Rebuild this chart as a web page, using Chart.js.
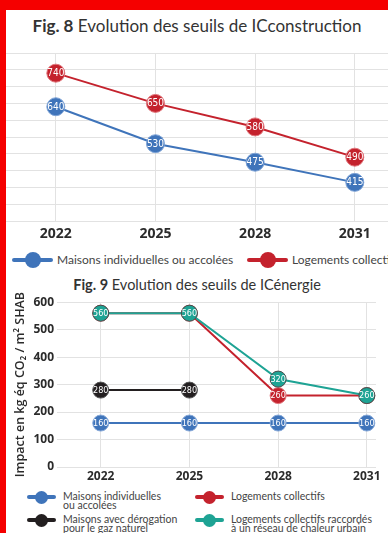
<!DOCTYPE html>
<html lang="fr">
<head>
<meta charset="utf-8">
<title>Evolution des seuils</title>
<script src="https://cdn.jsdelivr.net/npm/chart.js@4.4.1/dist/chart.umd.min.js"></script>
<style>
  html, body { margin: 0; padding: 0; width: 388px; height: 533px; overflow: hidden; background: #f50000; }
  #page { position: absolute; left: 6px; top: 10px; width: 400px; height: 540px; background: #fff;
          font-family: Lato, 'Open Sans', sans-serif; color: #333; }
  .titre { position: absolute; left: 0; width: 382px; text-align: center; white-space: nowrap; color: #333; }
  #titre8 { top: 6px; font-size: 17px; line-height: 20px; }
  #titre9 { top: 266px; font-size: 14.5px; line-height: 18px; }
  .cadre { position: absolute; left: 0; width: 382px; }
  #cadre8 { top: 35px; height: 200px; }
  #cadre9 { top: 282px; height: 192px; }
  .item { position: absolute; white-space: nowrap; color: #444; }
  .trait { position: absolute; border-radius: 2px; }
  .rond { position: absolute; border-radius: 50%; }
  .libelle { position: absolute; }
  #legende8 .libelle { font-size: 12px; line-height: 14px; top: -7px; }
  #legende9 .libelle { font-size: 10.5px; line-height: 9.5px; top: -5.5px; }
</style>
</head>
<body>
<div id="page">
  <div class="titre" id="titre8"><b>Fig. 8</b> Evolution des seuils de ICconstruction</div>
  <div class="cadre" id="cadre8"><canvas id="graphique8"></canvas></div>
  <div id="legende8"></div>

  <div class="titre" id="titre9"><b>Fig. 9</b> Evolution des seuils de ICénergie</div>
  <div class="cadre" id="cadre9"><canvas id="graphique9"></canvas></div>
  <div id="legende9"></div>
</div>

<script>
// Années communes aux deux figures
const annees = ['2022', '2025', '2028', '2031'];

// Fig. 8 : ICconstruction
const icConstructionMaisons = [640, 530, 475, 415];
const icConstructionLogements = [740, 650, 580, 490];

// Fig. 9 : ICénergie
const icEnergieMaisons = [160, 160, 160, 160];
const icEnergieLogements = [560, 560, 260, 260];
const icEnergieDerogationGaz = [280, 280, null, null];
const icEnergieReseauChaleur = [560, 560, 320, 260];

const ticksY9 = [0, 100, 200, 300, 400, 500, 600];

const couleurs = {
  bleu: '#3f74ba',
  rouge: '#c4222d',
  noir: '#231f20',
  turquoise: '#1ea394'
};

const grille = '#e2e2e2';
const policeTicks = "'Open Sans', 'DejaVu Sans', sans-serif";

function points(valeurs) {
  return annees.map((a, i) => ({ x: Number(a), y: valeurs[i] }));
}

// Valeur écrite en blanc au centre de chaque rond
const etiquettesPoints = {
  id: 'etiquettesPoints',
  afterDatasetDraw(chart, args, opts) {
    const ctx = chart.ctx;
    ctx.save();
    ctx.font = opts.font;
    ctx.fillStyle = '#fff';
    ctx.textAlign = 'center';
    ctx.textBaseline = 'middle';
    args.meta.data.forEach((pt, i) => {
      const d = chart.data.datasets[args.index].data[i];
      if (!d || d.y == null || pt.skip) return;
      ctx.fillText(String(d.y), pt.x, pt.y + 0.5);
    });
    ctx.restore();
  }
};

function serie(valeurs, couleur, bord, rayon, ordre) {
  return {
    data: points(valeurs),
    borderColor: couleur,
    backgroundColor: couleur,
    pointBackgroundColor: couleur,
    pointBorderColor: bord,
    pointBorderWidth: 1,
    pointRadius: rayon,
    pointHoverRadius: rayon,
    borderWidth: 2,
    tension: 0,
    order: ordre
  };
}

function ticksAnnees(scale) {
  scale.ticks = annees.map(a => ({ value: Number(a) }));
}

new Chart(document.getElementById('graphique8'), {
  type: 'line',
  data: {
    datasets: [
      serie(icConstructionMaisons, couleurs.bleu, '#7ea3d6', 9, 0),
      serie(icConstructionLogements, couleurs.rouge, '#e0767c', 9, 1)
    ]
  },
  options: {
    responsive: true,
    maintainAspectRatio: false,
    animation: false,
    events: [],
    layout: { autoPadding: false, padding: { top: 8, bottom: 2, left: 0, right: 0 } },
    plugins: {
      legend: { display: false },
      tooltip: { enabled: false },
      etiquettesPoints: { font: "10px 'Liberation Sans Narrow', 'DejaVu Sans Condensed', sans-serif" }
    },
    scales: {
      x: {
        type: 'linear',
        min: 2020.5,
        max: 2032,
        afterBuildTicks: ticksAnnees,
        afterFit: s => { s.height = 22; },
        grid: { color: grille, drawTicks: false },
        border: { display: false },
        ticks: {
          padding: 5,
          color: '#2b2b2b',
          font: { family: policeTicks, size: 14, weight: 'bold' },
          callback: v => String(v)
        }
      },
      y: {
        min: 300,
        max: 800,
        ticks: { display: false, stepSize: 50 },
        grid: { color: grille, drawTicks: false },
        border: { display: false },
        afterFit: s => { s.width = 0; }
      }
    }
  },
  plugins: [etiquettesPoints]
});

new Chart(document.getElementById('graphique9'), {
  type: 'line',
  data: {
    datasets: [
      serie(icEnergieMaisons, couleurs.bleu, '#86a8d8', 8, 0),
      serie(icEnergieLogements, couleurs.rouge, '#e0767c', 8, 3),
      serie(icEnergieDerogationGaz, couleurs.noir, '#555', 8, 1),
      serie(icEnergieReseauChaleur, couleurs.turquoise, '#4a4a4a', 8, 2)
    ]
  },
  options: {
    responsive: true,
    maintainAspectRatio: false,
    animation: false,
    events: [],
    layout: { autoPadding: false, padding: { top: 7, bottom: 0, left: 0, right: 12 } },
    plugins: {
      legend: { display: false },
      tooltip: { enabled: false },
      etiquettesPoints: { font: "9px 'Liberation Sans Narrow', 'DejaVu Sans Condensed', sans-serif" }
    },
    scales: {
      x: {
        type: 'linear',
        min: 2020.69,
        max: 2031.31,
        afterBuildTicks: ticksAnnees,
        afterFit: s => { s.height = 17; },
        grid: { color: grille, drawTicks: false },
        border: { display: false },
        ticks: {
          padding: 2,
          color: '#2b2b2b',
          font: { family: policeTicks, size: 12, weight: 'bold' },
          callback: v => String(v)
        }
      },
      y: {
        min: 0,
        max: 600,
        afterBuildTicks: s => { s.ticks = ticksY9.map(v => ({ value: v })); },
        grid: { color: grille, tickLength: 5 },
        border: { display: false },
        ticks: {
          padding: 3,
          color: '#2b2b2b',
          font: { family: policeTicks, size: 12, weight: 'bold' }
        },
        title: {
          display: true,
          text: 'Impact en kg éq CO₂ / m² SHAB',
          color: '#2b2b2b',
          padding: { top: 7, bottom: 0 },
          font: { family: policeTicks, size: 12.5, weight: '600' }
        },
        afterFit: s => { s.width = 56; }
      }
    }
  },
  plugins: [etiquettesPoints]
});

// Légendes : trait + rond de couleur, puis libellé
function legende(id, items, dims) {
  const zone = document.getElementById(id);
  items.forEach(it => {
    const el = document.createElement('div');
    el.className = 'item';
    el.style.left = it.x + 'px';
    el.style.top = it.y + 'px';
    el.innerHTML =
      `<div class="trait" style="left:0;top:${-dims.epaisseur / 2}px;width:${dims.longueur}px;height:${dims.epaisseur}px;background:${it.couleur}"></div>` +
      `<div class="rond" style="left:${dims.longueur / 2 - dims.rayon}px;top:${-dims.rayon}px;width:${dims.rayon * 2}px;height:${dims.rayon * 2}px;background:${it.couleur}"></div>` +
      `<div class="libelle" style="left:${dims.ecart}px">${it.texte}</div>`;
    zone.appendChild(el);
  });
}

legende('legende8', [
  { x: 6, y: 250, couleur: couleurs.bleu, texte: 'Maisons individuelles ou accolées' },
  { x: 241, y: 250, couleur: couleurs.rouge, texte: 'Logements collectifs' }
], { longueur: 41, epaisseur: 4, rayon: 8, ecart: 45 });

legende('legende9', [
  { x: 21, y: 487, couleur: couleurs.bleu, texte: 'Maisons individuelles<br>ou accolées' },
  { x: 189, y: 487, couleur: couleurs.rouge, texte: 'Logements collectifs' },
  { x: 21, y: 510, couleur: couleurs.noir, texte: 'Maisons avec dérogation<br>pour le gaz naturel' },
  { x: 189, y: 510, couleur: couleurs.turquoise, texte: 'Logements collectifs raccordés<br>à un réseau de chaleur urbain' }
], { longueur: 29, epaisseur: 3.5, rayon: 6.5, ecart: 36 });
</script>
</body>
</html>
